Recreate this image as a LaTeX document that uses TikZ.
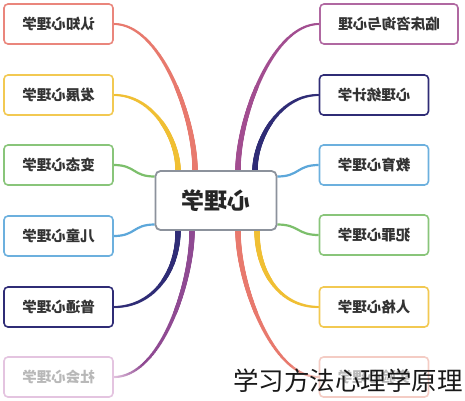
\documentclass[tikz,border=0pt]{standalone}
\usepackage{fontspec}
\usepackage{graphicx}
\newfontfamily\cjk{Noto Sans CJK SC}
\usetikzlibrary{backgrounds,decorations.markings}
\definecolor{salmon}{HTML}{E8796D}
\definecolor{gold}{HTML}{F0BF33}
\definecolor{leaf}{HTML}{7CBF6B}
\definecolor{sky}{HTML}{5CA7DA}
\definecolor{navy}{HTML}{2F2C76}
\definecolor{plum}{HTML}{8F4A92}
\definecolor{berry}{HTML}{A24D90}
\definecolor{blush}{HTML}{E4C4E0}
\definecolor{peach}{HTML}{F4CCC4}
\definecolor{hubgray}{HTML}{8C929C}
\newcommand\mirrortext[1]{\reflectbox{#1}}
\tikzset{
  topic/.style={draw=#1, line width=1.6pt, rounded corners=4pt, fill=white,
    minimum width=109pt, minimum height=40pt, inner sep=2pt,
    font=\cjk\bfseries\fontsize{14.5}{16}\selectfont, text=black!80},
  wide/.style={minimum width=138pt},
  faded/.style={text=black!28},
  hub/.style={draw=hubgray, line width=1.8pt, rounded corners=5pt, fill=white,
    minimum width=121pt, minimum height=59pt,
    font=\cjk\bfseries\fontsize{23}{25}\selectfont, text=black!85},
  twig/.style={draw=#1, line width=2.2pt},
  branch/.style 2 args={
    decoration={markings,
      mark=between positions 0 and 1 step 0.7pt with {
        \pgfmathsetmacro\t{\pgfkeysvalueof{/pgf/decoration/mark info/distance from start}/\pgfdecoratedpathlength}
        \pgfmathsetmacro\r{1.1+1.7*(1-\t)}
        \pgfmathsetmacro\p{min(100,max(0,(1-\t)*550))}
        \fill[#1!\p!#2] (0,0) circle (\r pt);
      }},
    postaction={decorate}
  }
}

\begin{document}
\begin{tikzpicture}[x=1pt,y=-1pt]
  \useasboundingbox (0,0) rectangle (465,400);
  % centre
  \node[hub] (psy) at (216,200.5) {\mirrortext{心理学}};
  % left column
  \node[topic=salmon!90] (cog) at (58.5,24) {\mirrortext{认知心理学}};
  \node[topic=gold!85] (dev) at (58.5,95) {\mirrortext{发展心理学}};
  \node[topic=leaf!90] (abn) at (58.5,165) {\mirrortext{变态心理学}};
  \node[topic=sky!90] (chi) at (58.5,236) {\mirrortext{儿童心理学}};
  \node[topic=navy] (gen) at (58.5,307) {\mirrortext{普通心理学}};
  \node[topic=blush,faded] (soc) at (58.5,377) {\mirrortext{社会心理学}};
  % right column
  \node[topic=berry!85,wide] (cli) at (389,24) {\mirrortext{临床咨询与心理}};
  \node[topic=navy] (sta) at (374,95) {\mirrortext{心理统计学}};
  \node[topic=sky!90] (edu) at (374,165) {\mirrortext{教育心理学}};
  \node[topic=leaf!90] (cri) at (374,235) {\mirrortext{犯罪心理学}};
  \node[topic=gold!85] (per) at (374,307) {\mirrortext{人格心理学}};
  \node[topic=peach,faded] (exp) at (374,377) {\mirrortext{实验心理学}};
  \begin{scope}[on background layer]
    \fill[white] (0,0) rectangle (465,400);
    \path[branch={salmon}{salmon}] ([xshift=-21pt]psy.north) .. controls +(0,-52) and +(47,0) .. (cog.east);
    \path[branch={gold}{gold}] ([xshift=-38pt]psy.north) .. controls +(0,-30) and +(40,0) .. (dev.east);
    \draw[twig=leaf] ([yshift=24pt]psy.west) .. controls +(-22,0) and +(22,0) .. (abn.east);
    \draw[twig=sky] ([yshift=-24pt]psy.west) .. controls +(-22,0) and +(22,0) .. (chi.east);
    \path[branch={navy}{navy}] ([xshift=-38pt]psy.south) .. controls +(0,40) and +(40,0) .. (gen.east);
    \path[branch={plum}{blush}] ([xshift=-24pt]psy.south) .. controls +(0,52) and +(47,0) .. (soc.east);
    \path[branch={berry}{berry}] ([xshift=22pt]psy.north) .. controls +(0,-52) and +(-47,0) .. (cli.west);
    \path[branch={navy}{navy}] ([xshift=39pt]psy.north) .. controls +(0,-30) and +(-40,0) .. (sta.west);
    \draw[twig=sky] ([yshift=24pt]psy.east) .. controls +(22,0) and +(-22,0) .. (edu.west);
    \draw[twig=leaf] ([yshift=-24pt]psy.east) .. controls +(22,0) and +(-22,0) .. (cri.west);
    \path[branch={gold}{gold}] ([xshift=41pt]psy.south) .. controls +(0,40) and +(-40,0) .. (per.west);
    \path[branch={salmon}{peach}] ([xshift=22pt]psy.south) .. controls +(0,52) and +(-47,0) .. (exp.west);
  \end{scope}
  \node[font=\cjk\fontsize{25.5}{27}\selectfont, text=black!90] (mark) at (348,381) {学习方法心理学原理};
\end{tikzpicture}
\end{document}
